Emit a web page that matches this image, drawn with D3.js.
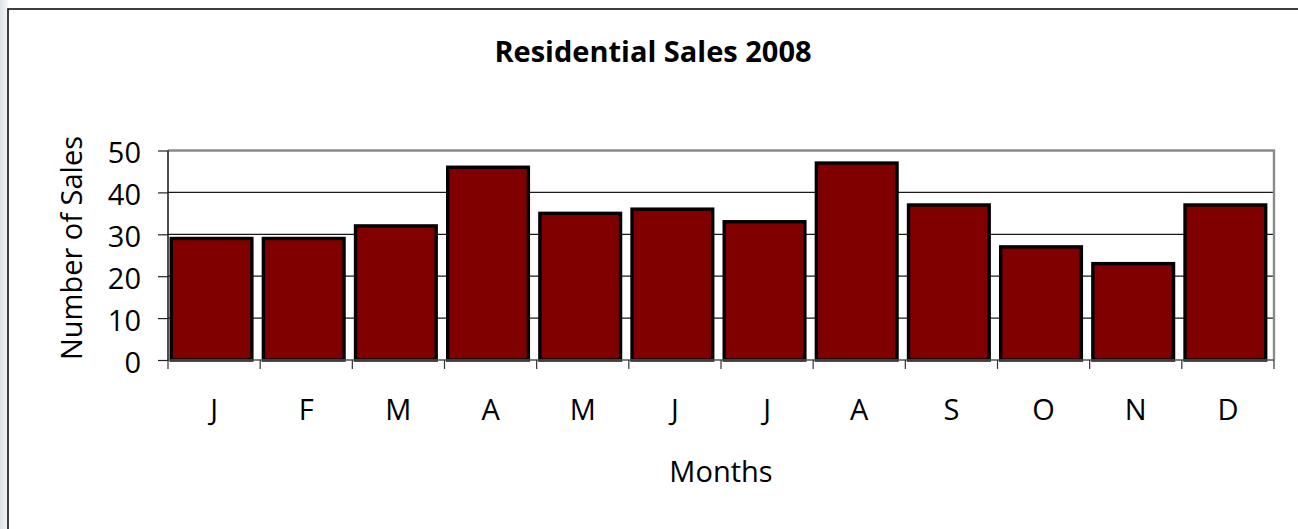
<!DOCTYPE html>
<html>
  <head>
    <title>Residential Sales 2008</title>
    <style>
      body {
        margin: 0;
        background: #fff;
        overflow: hidden;
      }

      text {
        font-family: 'Open Sans', sans-serif;
        fill: #000;
        font-size: 29px;
      }

      .grid line {
        stroke: #1a1a1a;
        stroke-width: 1.2px;
      }

      .bars rect {
        fill: #800000;
        stroke: #000;
        stroke-width: 3.4px;
      }
    </style>
  </head>
  <body>
    <svg width="1298" height="529"></svg>
  </body>
  <script src="https://d3js.org/d3.v7.min.js"></script>
  <script>
    // data
    const months = ['J', 'F', 'M', 'A', 'M', 'J', 'J', 'A', 'S', 'O', 'N', 'D'];
    const sales = [29, 29, 32, 46, 35, 36, 33, 47, 37, 27, 23, 37];
    const yTicks = [0, 10, 20, 30, 40, 50];

    const svg = d3.select('svg');

    // faint background strip on the left edge
    const defs = svg.append('defs');
    const grad = defs.append('linearGradient').attr('id', 'edge');
    grad.append('stop').attr('offset', '0%').attr('stop-color', '#dfe2e5');
    grad.append('stop').attr('offset', '100%').attr('stop-color', '#f6f7f8');
    svg.append('rect').attr('x', 0).attr('y', 0).attr('width', 8).attr('height', 529)
      .attr('fill', 'url(#edge)');

    // chart frame
    svg.append('rect')
      .attr('x', 8).attr('y', 9)
      .attr('width', 1320).attr('height', 560)
      .attr('fill', '#fff')
      .attr('stroke', '#111')
      .attr('stroke-width', 1.6);

    const plot = { left: 168, right: 1274, top: 150.5, bottom: 360 };

    const x = d3.scaleBand()
      .domain(d3.range(months.length))
      .range([plot.left, plot.right]);

    const y = d3.scaleLinear()
      .domain([0, 50])
      .range([plot.bottom, plot.top]);

    // gridlines (inner ones)
    svg.append('g')
      .attr('class', 'grid')
      .selectAll('line')
      .data(yTicks.filter(d => d > 0 && d < 50))
      .enter()
      .append('line')
      .attr('x1', plot.left)
      .attr('x2', plot.right)
      .attr('y1', d => y(d))
      .attr('y2', d => y(d));

    // top and right plot border
    svg.append('path')
      .attr('d', `M${plot.left},${y(50)}H${plot.right}V${y(0)}`)
      .attr('fill', 'none')
      .attr('stroke', '#8a8a8a')
      .attr('stroke-width', 2.4);

    // bars
    svg.append('g')
      .attr('class', 'bars')
      .selectAll('rect')
      .data(sales)
      .enter()
      .append('rect')
      .attr('x', (d, i) => x(i) + 3.2)
      .attr('width', x.bandwidth() - 11.5)
      .attr('y', d => y(d))
      .attr('height', d => y(0) - y(d));

    // y axis
    const yAxis = svg.append('g')
      .attr('transform', `translate(${plot.left},0)`)
      .call(d3.axisLeft(y).tickValues(yTicks).tickSize(10).tickPadding(0).tickFormat(d3.format('d')));
    yAxis.select('.domain').remove();
    yAxis.selectAll('.tick line').attr('stroke', '#222').attr('stroke-width', 1.2);
    yAxis.selectAll('.tick text')
      .attr('x', -27)
      .attr('dy', '0.43em')
      .style('font-size', '29px');
    yAxis.append('line')
      .attr('y1', y(50)).attr('y2', y(0))
      .attr('stroke', '#222').attr('stroke-width', 1.6);

    // x axis
    const xAxis = svg.append('g')
      .attr('transform', `translate(0,${plot.bottom})`);
    xAxis.append('line')
      .attr('x1', plot.left).attr('x2', plot.right)
      .attr('stroke', '#555').attr('stroke-width', 1.6);
    xAxis.selectAll('.xtick')
      .data(d3.range(months.length + 1))
      .enter()
      .append('line')
      .attr('class', 'xtick')
      .attr('x1', i => i < months.length ? x(i) : plot.right)
      .attr('x2', i => i < months.length ? x(i) : plot.right)
      .attr('y1', 0).attr('y2', 9)
      .attr('stroke', '#333').attr('stroke-width', 1.2);
    xAxis.selectAll('.xlabel')
      .data(months)
      .enter()
      .append('text')
      .attr('class', 'xlabel')
      .attr('x', (d, i) => x(i) + x.bandwidth() / 2)
      .attr('y', 60)
      .attr('text-anchor', 'middle')
      .text(d => d);

    // titles
    svg.append('text')
      .attr('x', 653).attr('y', 62)
      .attr('text-anchor', 'middle')
      .style('font-weight', 'bold')
      .text('Residential Sales 2008');

    svg.append('text')
      .attr('x', (plot.left + plot.right) / 2).attr('y', 482)
      .attr('text-anchor', 'middle')
      .text('Months');

    svg.append('text')
      .attr('transform', 'translate(82,248) rotate(-90)')
      .attr('text-anchor', 'middle')
      .text('Number of Sales');
  </script>
</html>
